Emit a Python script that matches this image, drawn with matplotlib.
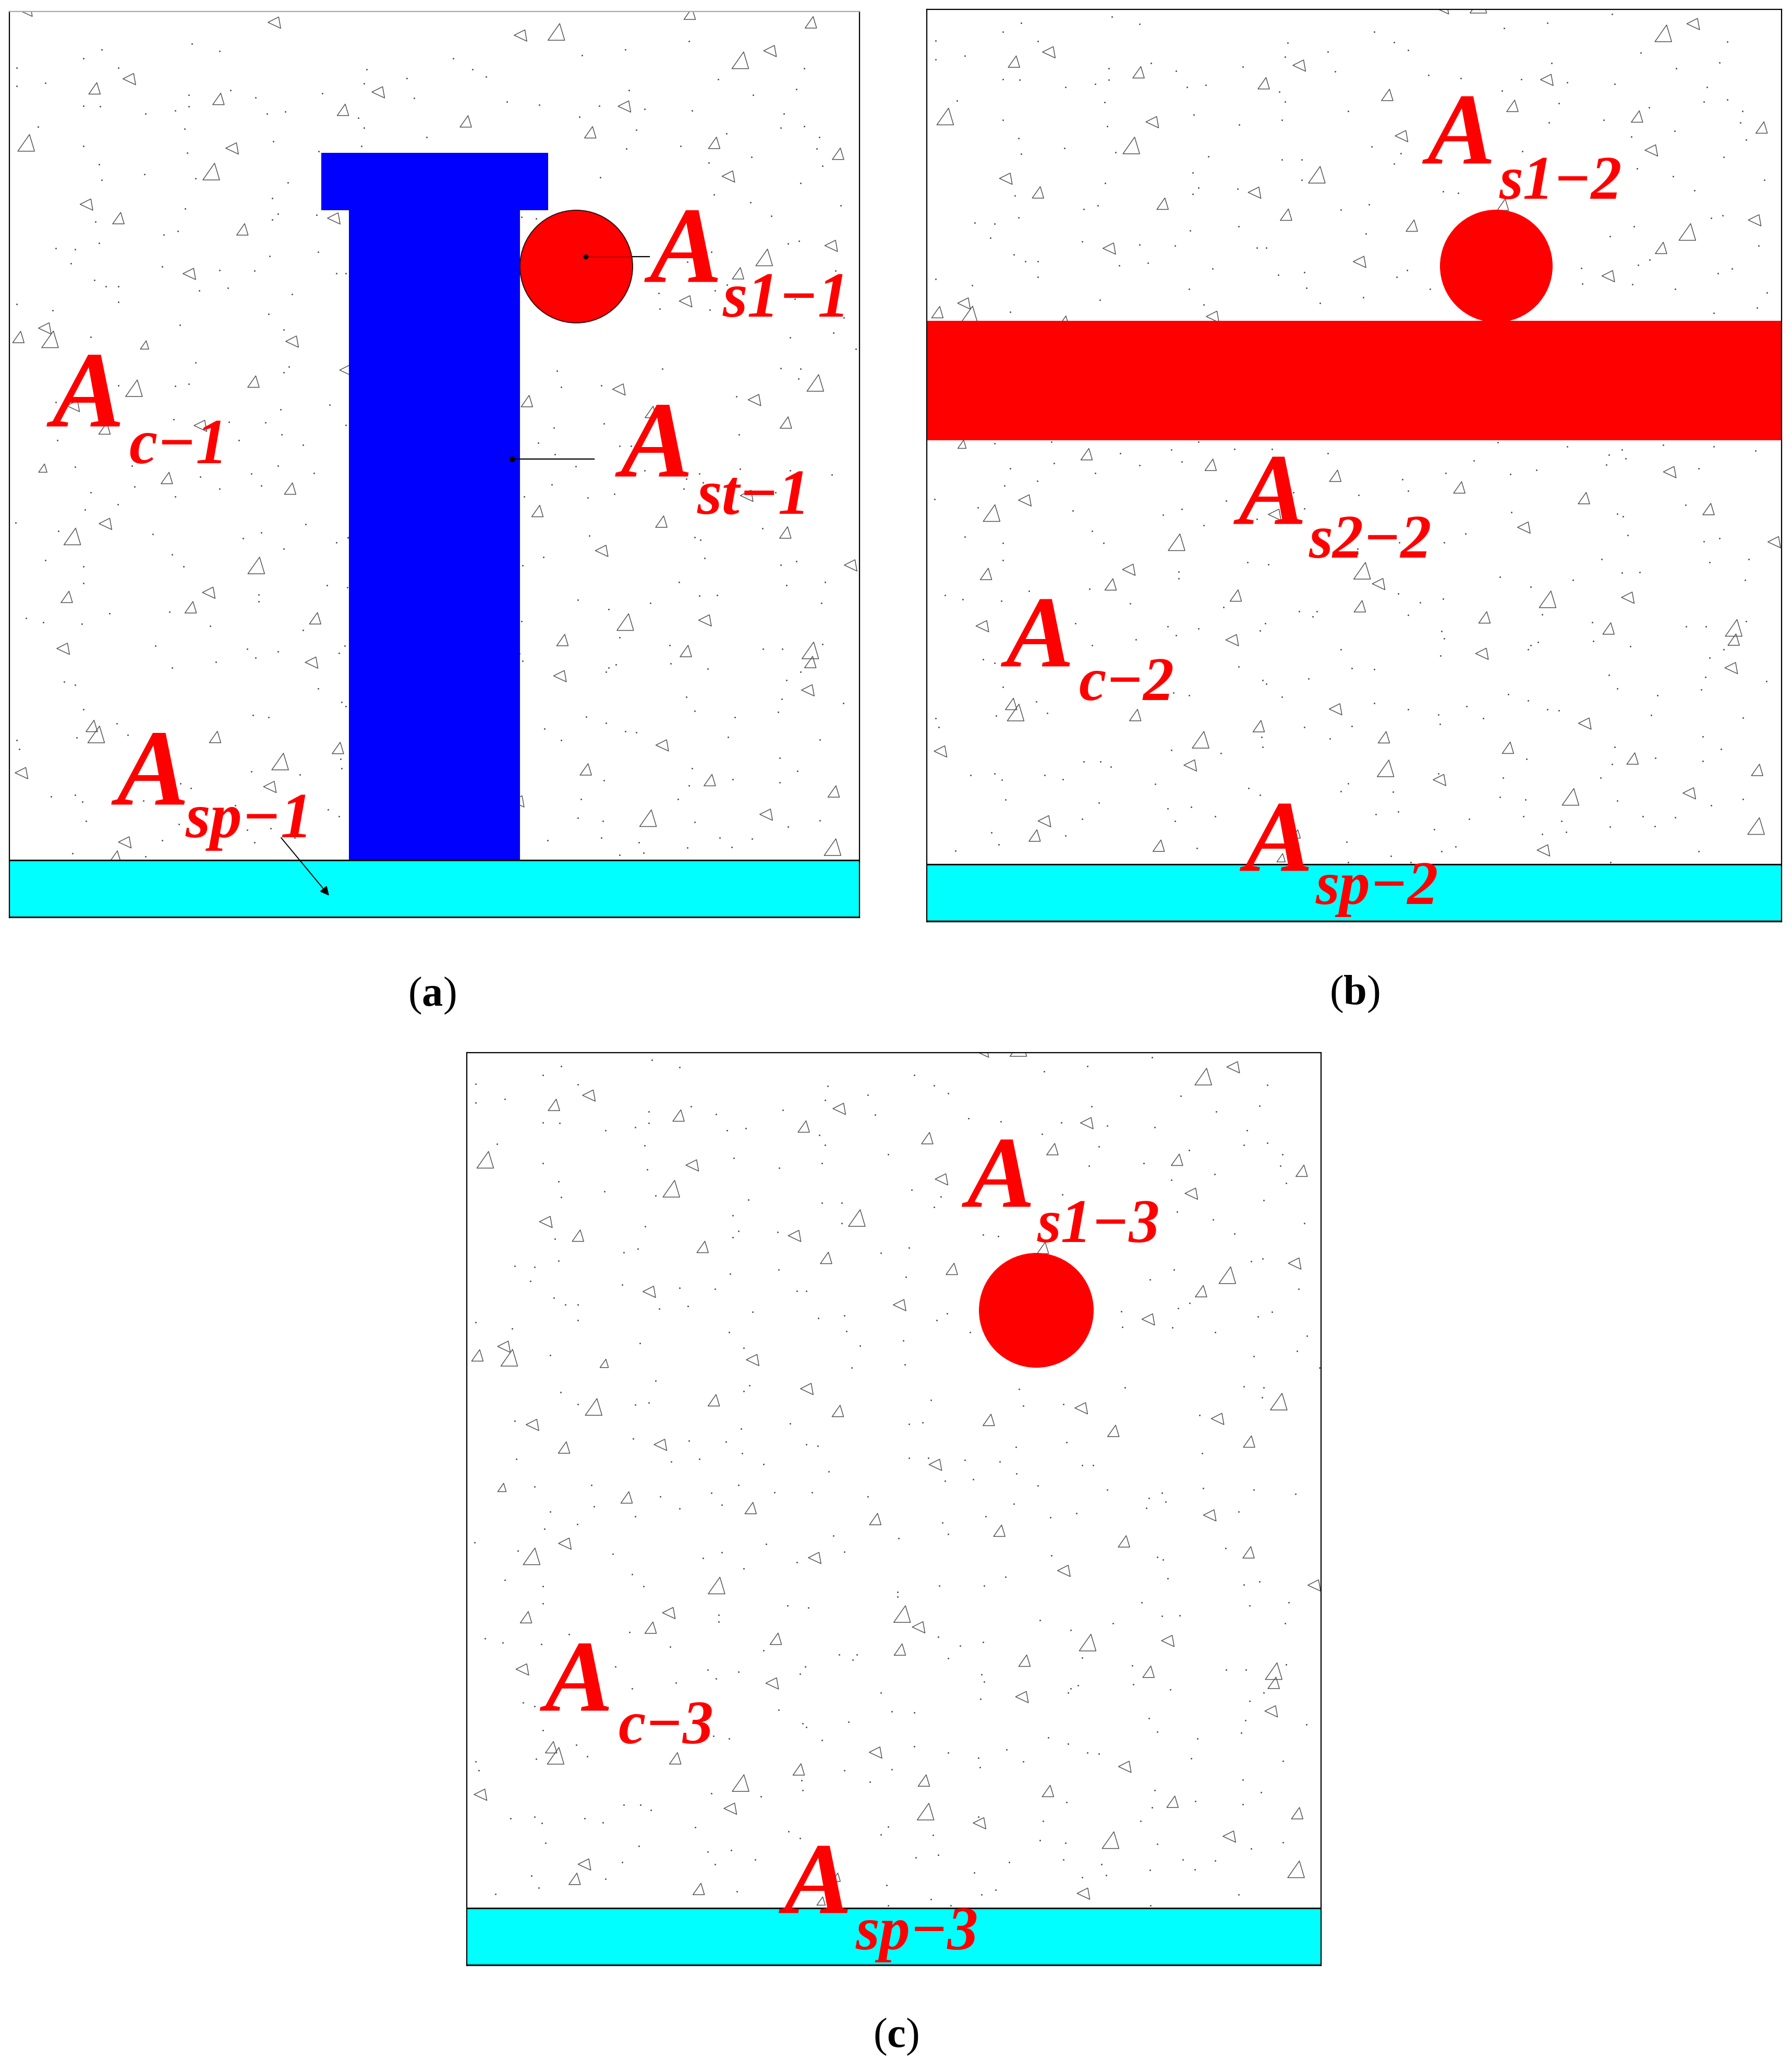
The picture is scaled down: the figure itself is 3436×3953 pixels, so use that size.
"""Concrete section diagrams (a), (b), (c): areas of steel, concrete and steel plate."""
import matplotlib
matplotlib.use("Agg")
import matplotlib.pyplot as plt
import numpy as np
from matplotlib.collections import PolyCollection
from matplotlib.patches import Circle, Rectangle

plt.rcParams["font.family"] = ["Liberation Serif", "DejaVu Serif"]
plt.rcParams["mathtext.fontset"] = "custom"
plt.rcParams["mathtext.rm"] = "Liberation Serif"
plt.rcParams["mathtext.bf"] = "Liberation Serif:bold"

W, H = 3437, 3953

# panel frames, page pixels
panel_names = ["a", "b", "c"]
panel_left = [18, 1777, 895]
panel_right = [1648, 3416, 2533]
panel_top = [22, 18, 2018]
concrete_bottom = [1649, 1657, 3658]
panel_bottom = [1759, 1767, 3768]
caption_x = [828, 2597, 1718]
caption_y = [1928, 1925, 3924]

# aggregate texture: upper crop (x, y, size class, angle)
agg_x_upper = [1332, 1385, 170, 232, 393, 680, 617, 1123, 838, 1062, 47, 417, 1285, 863, 1508, 380,
               1310, 155, 712, 213, 600, 436, 657, 882, 1045, 1375, 1495, 1328, 340, 788, 1233, 80,
               33, 90, 525, 260, 622, 1467, 456, 241, 678, 1113, 948, 1357, 1171, 131, 188, 1414,
               360, 852, 77, 300, 522, 745, 1343, 967, 1190, 189, 1413, 130, 636,
               493, 936, 1001, 1241, 1459, 46]
agg_y_upper = [100, 75, 185, 160, 217, 200, 250, 243, 285, 318, 350, 370, 350, 412, 383, 437,
               455, 540, 525, 578, 582, 612, 645, 678, 615, 697, 665, 745, 750, 790, 833, 915,
               938, 945, 955, 962, 1042, 1077, 1073, 1093, 1105, 1100, 1132, 1132, 1165, 1150, 1215, 1197,
               1210, 1270, 1335, 1365, 1397, 1430, 1422, 1465, 1497, 1507, 1530, 1542, 1550,
               -11, 28, 14, -41, -15, -47]
agg_size_upper = [3, 2, 2, 2, 2, 2, 2, 2, 2, 2, 3, 2, 2, 2, 2, 3,
                  2, 2, 3, 2, 2, 2, 2, 2, 2, 3, 2, 2, 2, 2, 2, 2,
                  2, 3, 2, 1, 2, 3, 2, 3, 2, 2, 2, 2, 2, 2, 2, 2,
                  2, 2, 1, 2, 2, 2, 2, 2, 2, 2, 2, 3, 2,
                  2, 2, 3, 2, 2, 2]
agg_angle_upper = [0, 100, 0, 100, 0, 100, 0, 100, 0, 0, 0, 100, 0, 100, 0, 0,
                   100, 100, 0, 0, 100, 0, 0, 0, 0, 0, 100, 0, 100, 100, 100, 100,
                   0, 0, 100, 0, 100, 0, 0, 0, 0, 100, 0, 100, 0, 100, 0, 0,
                   100, 100, 0, 0, 0, 0, 100, 0, 0, 100, 0, 0, 100,
                   100, 100, 0, 0, 0, 100]

# lower crop of panel (c)
agg_x_lower = [461, 1082, 1530, 120, 375, 793, 822, 343, 567, 1125, 1268, 789, 113, 1012, 1234, 1458,
               1458, 560, 1007, 1453, 165, 173, 387, 745, 1191, 608, 504, 832, 1054, 38, 485, 1277,
               835, 1500, 931, 1166, 1378, 224, 207, 1498, 429, 1117, 675, 648]
agg_y_lower = [65, 22, 68, 165, 155, 155, 200, 198, 233, 245, 243, 267, 333, 302, 337, 335,
               372, 377, 420, 465, 575, 602, 610, 595, 640, 645, 688, 680, 713, 728, 772, 747,
               778, 783, 818, 868, 860, 948, 990, 960, 1022, 1040, 985, 1060]
agg_size_lower = [3, 2, 2, 2, 2, 3, 2, 2, 2, 3, 2, 2, 2, 2, 2, 3,
                  2, 2, 2, 2, 2, 3, 2, 2, 2, 2, 3, 2, 2, 2, 2, 2,
                  3, 2, 2, 3, 2, 2, 2, 3, 2, 2, 1, 1]
agg_angle_lower = [0, 100, 100, 0, 100, 0, 100, 0, 0, 0, 100, 0, 100, 0, 0, 0,
                   0, 100, 100, 100, 0, 0, 0, 100, 100, 0, 0, 0, 0, 100, 100, 0,
                   0, 0, 100, 0, 100, 100, 0, 0, 0, 100, 0, 0]

sand_x_upper = [150, 183, 213, 82, 30, 30, 345, 395, 580, 660, 732, 815, 850, 875, 1047, 1125, 1240, 1292, 1447,
                460, 415, 340, 340, 150, 180, 262, 315, 480, 513, 655, 645, 655, 745, 912, 970, 1078, 1132,
                1160, 1245, 1355, 1433, 1410, 1405, 1447, 1145, 1043, 1307, 332, 68, 768, 150, 492, 337, 573,
                650, 1225, 1127, 1352, 1470, 1474, 1480, 260, 178, 183, 352, 518, 490, 650, 685, 685, 1080,
                810, 862, 850, 1275, 1440, 1285, 1350, 1513, 333, 500, 490, 570, 938, 965, 1388, 172, 320,
                295, 178, 100, 135, 128, 485, 572, 755, 805, 800, 1280, 1237, 1418, 1438, 1503, 292, 395,
                458, 605, 622, 170, 190, 213, 358, 410, 525, 643, 690, 855, 874, 1185, 1187, 1277, 1287,
                1308, 1430, 1455, 213, 30, 95, 483, 693, 795, 1353, 1518, 324, 718, 915, 510, 163, 798, 703,
                1422, 1500, 352, 520, 510, 182, 1002, 845, 1192, 1405, 1440, 1540, 1437, 315, 340, 213,
                1010, 1082, 1325, 805, 830, 100, 593, 505, 312, 412, 478, 622, 642, 1087, 997, 507, 430, 380,
                103, 545, 805, 840, 905, 968, 1115, 1135, 1330, 662, 998, 920, 870, 237, 135, 500, 565, 632,
                1036, 1332, 1160, 1422, 360, 452, 732, 1235, 1258, 1265, 1497, 242, 395, 470, 993, 1230,
                1395, 1105, 163, 315, 865, 943, 1058, 212, 153, 875, 670, 787, 550, 28, 105, 1372, 275, 437,
                470, 605, 690, 1250, 1260, 1060]
sand_y_upper = [95, 68, 123, 168, 178, 122, 50, 72, 200, 128, 155, 95, 127, 150, 85, 68, 42, 158, 125,
                213, 190, 205, 240, 238, 240, 262, 252, 262, 255, 170, 275, 305, 215, 225, 235, 238, 190,
                248, 252, 205, 188, 262, 305, 300, 310, 272, 322, 307, 302, 333, 360, 345, 380, 375,
                360, 360, 368, 393, 368, 333, 420, 445, 415, 462, 458, 470, 518, 480, 480, 540, 455,
                440, 460, 492, 410, 472, 507, 530, 540, 550, 565, 583, 568, 575, 580, 572, 588, 618,
                628, 653, 670, 672, 715, 693, 680, 630, 615, 703, 680, 710, 655, 648, 738, 725, 735,
                738, 745, 745, 765, 785, 785, 798, 790, 808, 826, 818, 832, 812, 805, 852, 855, 797,
                780, 822, 808, 832, 838, 857, 868, 865, 893, 868, 880, 902, 910, 868, 915, 938, 965, 975,
                940, 925, 1015, 1028, 1045, 1048, 1040, 1072, 1035, 1032, 1035, 975, 1065, 1087, 1080, 1085,
                1090, 1085, 1118, 1145, 1140, 1135, 1143, 1158, 1188, 1195, 1197, 1205, 1210, 1200, 1213, 1233, 1250, 1258,
                1250, 1265, 1247, 1247, 1253, 1258, 1268, 1268, 1233, 1287, 1293, 1310, 1315, 1328, 1332, 1328, 1350, 1350,
                1330, 1338, 1342, 1342, 1362, 1352, 1362, 1367, 1352, 1378, 1355, 1392, 1398, 1388, 1385, 1397,
                1408, 1413, 1408, 1422, 1440, 1422, 1425, 1445, 1460, 1475, 1480, 1488, 1505, 1500, 1525, 1517, 1535, 1548,
                1530, 1560, 1528, 1545, 1552, 1540]

sand_x_lower = [82, 150, 310, 330, 510, 860, 940, 978, 1268, 1433, 1405, 785, 785, 150, 588, 625, 465, 465, 1222,
                1415, 1485, 1258, 1290, 1040, 1170, 1478, 1095, 197, 305, 47, 78, 147, 378, 545, 858, 938, 897,
                1115, 680, 712, 705, 875, 280, 445, 500, 620, 610, 1205, 1373, 1408, 1480, 935, 940, 460, 388,
                1108, 1095, 1090, 1207, 1273, 755, 310, 115, 135, 933, 1415, 1440, 572, 775, 815, 1235, 697,
                1407, 615, 622, 1517, 150, 1250, 1400, 455, 483, 1055, 1322, 650, 815, 875, 980, 1090, 1125,
                1145, 210, 138, 230, 30, 35, 775, 930, 932, 1010, 1310, 1475, 690, 613, 735, 615, 1403, 452,
                540, 1245, 1435, 295, 325, 343, 1087, 1318, 1240, 1403, 92, 135, 148, 225, 258, 423, 590, 1045,
                1220, 1418, 768, 755, 930, 848, 610, 155, 322, 1040, 1085, 1250, 1475, 445, 487, 818, 858, 1082,
                1150, 1295, 1353, 1317, 530, 292, 458, 922, 985, 1158, 1237, 130, 262, 1115, 143, 65, 765, 497,
                960, 935, 845, 1395, 880, 1238, 768]
sand_y_lower = [48, 68, 30, 68, 12, 65, 65, 38, 42, 52, 63, 85, 100, 122, 128, 135, 158, 180, 118,
                128, 118, 162, 160, 175, 185, 185, 205, 218, 213, 232, 245, 250, 258, 270, 227, 243, 255,
                293, 283, 283, 300, 295, 320, 330, 338, 320, 343, 318, 330, 330, 315, 345, 368, 358, 372,
                380, 390, 403, 377, 393, 403, 390, 435, 445, 423, 430, 403, 457, 462, 465, 483, 495,
                490, 500, 512, 503, 522, 527, 530, 540, 548, 545, 548, 553, 573, 592, 583, 565, 592,
                595, 567, 612, 603, 620, 648, 645, 608, 638, 620, 610, 618, 648, 680, 685, 710, 677, 720,
                730, 710, 718, 757, 757, 773, 748, 745, 765, 755, 800, 795, 815, 800, 812, 827, 840, 808,
                808, 895, 825, 850, 795, 852, 862, 877, 887, 868, 877, 880, 875, 905, 900, 923, 915, 930,
                945, 930, 933, 960, 930, 938, 945, 970, 938, 978, 962, 980, 990, 985, 1018, 1038, 1010, 1030,
                1025, 1040, 1055, 1040, 1075, 1075, 1075]

# texture placement per panel: x scale, x shift, y scale, y shift
tex_sx = [0.9945, 1.0, 1.0]
tex_dx = [-3, 0, 0]
tex_sy = [0.9926, 1.0, 1.0]
tex_dy = [48, 0, 0]

# labels: main letter is always A, subscript follows, all baseline-left in page pixels
label_text = ["s1−1", "c−1", "st−1", "sp−1", "s1−2", "s2−2", "c−2", "sp−2", "s1−3", "c−3", "sp−3"]
label_ax = [1246, 100, 1190, 224, 2736, 2374, 1928, 2386, 1853, 1044, 1502]
label_ay = [539, 816, 912, 1541, 314, 1005, 1278, 1670, 2314, 3280, 3669]
label_sx = [1386, 247, 1337, 356, 2875, 2510, 2068, 2523, 1989, 1185, 1641]
label_sy = [607, 888, 985, 1605, 381, 1069, 1342, 1733, 2381, 3342, 3737]
label_a_pt = [150, 150, 150, 150, 141, 141, 141, 141, 141, 141, 141]
label_s_pt = [88, 88, 88, 88, 85, 85, 85, 85, 85, 85, 85]


def pattern_px(x_up, y_up, x_low, y_low):
    # both crops were read stretched, back to pixels relative to the panel corner
    x = np.r_[x_up, x_low].astype(float)
    y_u = (np.asarray(y_up, float) - 28) / 1.568
    y_l = 982 + np.asarray(y_low, float) / 1.645
    return (x - 14) / 0.9333, np.r_[y_u, y_l]


def triangles(cx, cy, size, angle):
    base = np.array([[-0.5, 0.5], [0.5, 0.5], [0.2, -0.5]])
    polys = []
    for x0, y0, s, a in zip(cx, cy, size, angle):
        t = np.radians(-a)
        rot = np.array([[np.cos(t), -np.sin(t)], [np.sin(t), np.cos(t)]])
        polys.append(base @ rot.T * s + [x0, y0])
    return polys


agg_u, agg_v = pattern_px(agg_x_upper, agg_y_upper, agg_x_lower, agg_y_lower)
sand_u, sand_v = pattern_px(sand_x_upper, sand_y_upper, sand_x_lower, sand_y_lower)
size_px = np.array([0, 16, 22, 32])[np.r_[agg_size_upper, agg_size_lower]]
angles = np.r_[agg_angle_upper, agg_angle_lower]

fig = plt.figure(figsize=(W / 100, H / 100), dpi=100, facecolor="white")
axes = []
for i, name in enumerate(panel_names):
    l, r, t, b = panel_left[i], panel_right[i], panel_top[i], panel_bottom[i]
    ax = fig.add_axes([l / W, 1 - b / H, (r - l) / W, (b - t) / H])
    ax.set_xlim(l, r)
    ax.set_ylim(b, t)
    ax.set_xticks([])
    ax.set_yticks([])
    for s in ax.spines.values():
        s.set_linewidth(1.6)
        s.set_zorder(20)
    ax.spines["top"].set_color("#aaaaaa" if name == "a" else "black")

    tx = l + tex_dx[i] + agg_u * tex_sx[i]
    ty = t + tex_dy[i] + agg_v * tex_sy[i]
    polys = triangles(tx, ty, size_px, angles)
    ax.add_collection(PolyCollection(polys, facecolors="none", edgecolors="#555555",
                                     linewidths=1.1, zorder=2))
    ax.scatter(l + tex_dx[i] + sand_u * tex_sx[i], t + tex_dy[i] + sand_v * tex_sy[i],
               s=5, color="#555555", linewidths=0, zorder=1)

    ax.add_patch(Rectangle((l, concrete_bottom[i]), r - l, b - concrete_bottom[i],
                           facecolor="#00ffff", edgecolor="none", zorder=5))
    ax.plot([l, r], [concrete_bottom[i]] * 2, color="#101010", lw=2.2, zorder=6)
    ax.plot([l, r], [b - 2] * 2, color="#008080", lw=2.2 if name != "a" else 1.2, zorder=6)
    axes.append(ax)

# panel (a): T-shaped steel, longitudinal bar
axes[0].add_patch(Rectangle((616, 293), 435, 110, facecolor="#0000ff", edgecolor="none", zorder=5))
axes[0].add_patch(Rectangle((669, 403), 328, 1246, facecolor="#0000ff", edgecolor="none", zorder=5))
axes[0].add_patch(Circle((1105, 511), 108, facecolor="#ff0000", edgecolor="#301010", lw=1.4, zorder=5))

# panel (b): bar plus flange in red
axes[1].add_patch(Rectangle((1777, 615), 1639, 229, facecolor="#ff0000", edgecolor="none", zorder=5))
axes[1].add_patch(Circle((2869, 510), 108, facecolor="#ff0000", edgecolor="none", zorder=5))

# panel (c): bar only
axes[2].add_patch(Circle((1987, 2512), 110, facecolor="#ff0000", edgecolor="none", zorder=5))

# page layer for leaders, labels and captions
page = fig.add_axes([0, 0, 1, 1], facecolor="none")
page.set_xlim(0, W)
page.set_ylim(H, 0)
page.axis("off")

page.plot([1123, 1213], [492, 492], color="#a00000", lw=1.0)
page.plot([1213, 1245], [492, 492], color="black", lw=1.6)
page.plot([1123], [492], "o", color="black", ms=6)
page.plot([982, 1139], [880, 880], color="black", lw=1.6)
page.plot([982], [880], "o", color="black", ms=7)
page.annotate("", xy=(631, 1717), xytext=(539, 1606),
              arrowprops=dict(arrowstyle="-|>", color="black", lw=1.4, mutation_scale=26,
                              shrinkA=0, shrinkB=0))

for txt, ax_, ay, sx, sy, a_pt, s_pt in zip(label_text, label_ax, label_ay, label_sx, label_sy,
                                            label_a_pt, label_s_pt):
    page.text(ax_, ay, "A", color="#ff0000", fontsize=a_pt, fontweight="bold", fontstyle="italic",
              ha="left", va="baseline")
    page.text(sx, sy, txt, color="#ff0000", fontsize=s_pt, fontweight="bold", fontstyle="italic",
              ha="left", va="baseline")

for name, cx, cy in zip(panel_names, caption_x, caption_y):
    page.text(cx, cy, r"($\mathbf{%s}$)" % name, fontsize=58, color="black", ha="center", va="baseline")

fig.savefig("out.png", dpi=100)
plt.close(fig)
